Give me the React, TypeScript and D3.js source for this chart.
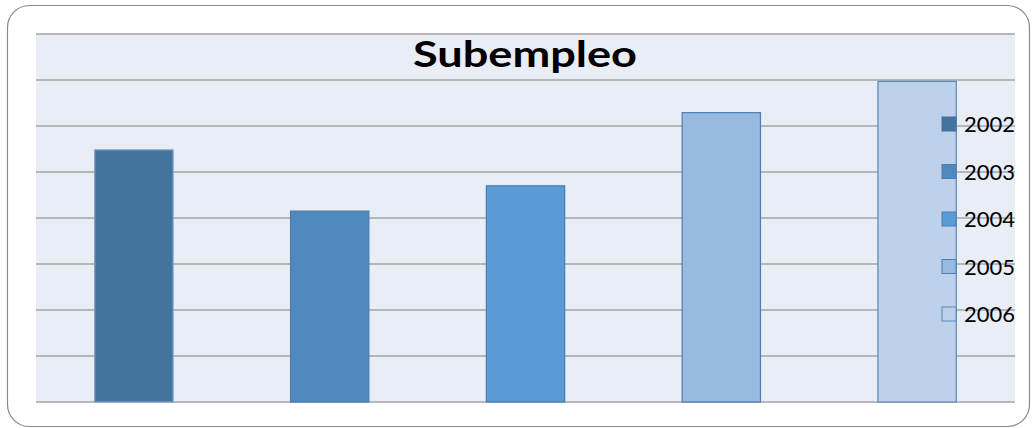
import React from "react";
import * as d3 from "d3";

const categories = ["2002", "2003", "2004", "2005", "2006"];
const values = [5.48, 4.15, 4.7, 6.29, 6.97];
const colors = ["#44739f", "#4f89bd", "#5b9bd5", "#98b9e0", "#bdd1ea"];
const strokes = ["#7aa0c6", "#4a7db0", "#4a7db0", "#4a7db0", "#5a88b8"];
const gridTicks = [0, 1, 2, 3, 4, 5, 6, 7, 8];
const title = "Subempleo";

const W = 1032;
const H = 428;
const plot = { left: 36, right: 1015, top: 34, bottom: 402 };

export default function App() {
  const x = d3
    .scaleBand<string>()
    .domain(categories)
    .range([plot.left, plot.right])
    .paddingInner(0.6)
    .paddingOuter(0.3);
  const y = d3.scaleLinear().domain([0, 8]).range([plot.bottom, plot.top]);
  const legendY = d3.scalePoint<string>().domain(categories).range([124, 314]);

  return (
    <svg
      width={W}
      height={H}
      style={{ position: "absolute", left: 0, top: 0 }}
      fontFamily="Lato, 'Open Sans', sans-serif"
    >
      <rect x={0} y={0} width={W} height={H} fill="#ffffff" />
      <rect
        x={7.5}
        y={5.5}
        width={1022}
        height={421}
        rx={22}
        ry={22}
        fill="#ffffff"
        stroke="#8a8a8a"
        strokeWidth={1.2}
      />
      <rect
        x={plot.left}
        y={plot.top}
        width={plot.right - plot.left}
        height={plot.bottom - plot.top}
        fill="#e9edf6"
      />
      {gridTicks.map((t) => (
        <line
          key={t}
          x1={plot.left}
          x2={plot.right}
          y1={y(t)}
          y2={y(t)}
          stroke="#a3a3a3"
          strokeWidth={1.5}
        />
      ))}
      {categories.map((c, i) => (
        <rect
          key={c}
          x={x(c)}
          y={y(values[i])}
          width={x.bandwidth()}
          height={y(0) - y(values[i])}
          fill={colors[i]}
          stroke={strokes[i]}
          strokeWidth={1.2}
        />
      ))}
      <text
        x={525}
        y={67}
        textAnchor="middle"
        fontSize={36}
        fontWeight="bold"
        fill="#000"
        textLength={224}
        lengthAdjust="spacingAndGlyphs"
      >
        {title}
      </text>
      {categories.map((c, i) => (
        <g key={c} transform={`translate(942,${legendY(c)})`}>
          <rect
            x={0}
            y={-7}
            width={14}
            height={14}
            fill={colors[i]}
            stroke={strokes[i] === "#7aa0c6" ? "#44739f" : strokes[i]}
            strokeWidth={1}
          />
          <text x={22} y={8} fontSize={22} fill="#000">
            {c}
          </text>
        </g>
      ))}
    </svg>
  );
}
